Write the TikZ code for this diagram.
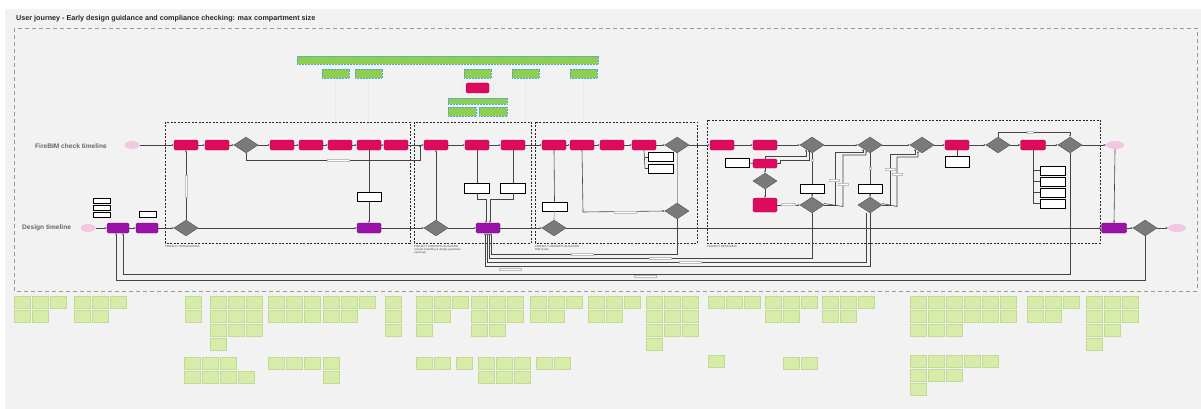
\documentclass[tikz,border=0pt]{standalone}
\usepackage{fontspec}
\setmainfont{Liberation Sans}
\usetikzlibrary{shapes.geometric,arrows.meta}
\definecolor{pk}{HTML}{DE0A5E}
\definecolor{pkd}{HTML}{A8064A}
\definecolor{pu}{HTML}{9A13A8}
\definecolor{pud}{HTML}{6A0A75}
\definecolor{dg}{HTML}{7A7A7A}
\definecolor{dgd}{HTML}{555555}
\definecolor{ov}{HTML}{F3C6E3}
\definecolor{gr}{HTML}{8DCF50}
\definecolor{grb}{HTML}{4FA3E0}
\definecolor{nt}{HTML}{D6ECA8}
\definecolor{ntd}{HTML}{C2DA94}
\definecolor{pan}{HTML}{F2F2F2}
\definecolor{ln}{HTML}{444444}
\tikzset{
  pinkbox/.style={rectangle,rounded corners=1.5pt,fill=pk,draw=pkd,line width=0.4pt,minimum width=24pt,minimum height=10pt,inner sep=0pt},
  purplebox/.style={rectangle,rounded corners=1.5pt,fill=pu,draw=pud,line width=0.4pt,minimum width=24pt,minimum height=10pt,inner sep=0pt},
  dia/.style={diamond,aspect=1.5,fill=dg,draw=dgd,line width=0.4pt,minimum width=24pt,minimum height=16pt,inner sep=0pt},
  wbox/.style={rectangle,fill=white,draw=black,line width=0.6pt,minimum width=24pt,minimum height=9pt,inner sep=0pt},
  ovalnode/.style={ellipse,fill=ov,draw=none,minimum width=15pt,minimum height=8pt,inner sep=0pt},
  greenbox/.style={rectangle,fill=gr,draw=grb,densely dotted,line width=0.5pt,minimum width=27pt,minimum height=9pt,inner sep=0pt},
  notebox/.style={rectangle,fill=nt,draw=ntd,line width=0.2pt,minimum width=16pt,minimum height=12pt,inner sep=0pt,anchor=north west},
  lbl/.style={rectangle,fill=white,draw=black!25,line width=0.2pt,inner sep=0pt},
  conn/.style={draw=ln,line width=0.6pt,-{Stealth[length=2.2pt,width=1.8pt]}},
  plain/.style={draw=ln,line width=0.6pt},
  light/.style={draw=black!35,line width=0.6pt},
  faint/.style={draw=black!8,line width=0.4pt},
  secbox/.style={draw=black!85,line width=0.6pt,dash pattern=on 2pt off 1.5pt},
  seclabel/.style={font=\fontsize{2.8}{3.2}\selectfont,text=black!70,anchor=north west,inner sep=0pt,align=left},
}
\newcommand\noterow[3]{\foreach \i in {1,...,#3}{\node[notebox] (n-#1-#2-\i) at ({#1+(\i-1)*18},#2) {};}}
\begin{document}
\begin{tikzpicture}[x=1pt,y=-1pt]
\useasboundingbox (0,0) rectangle (1201,409);
\fill[white] (0,0) rectangle (1201,409);
\fill[pan] (5,9) rectangle (1201,409);
\node[anchor=west,inner sep=0pt,font=\fontsize{7.2}{8}\selectfont\bfseries,text=black!85] (title) at (16,19) {User journey - Early design guidance and compliance checking: max compartment size};
\draw[black!40,line width=0.8pt,dash pattern=on 4pt off 3pt] (14,28) rectangle (1197,291);

% lane labels
\node[anchor=west,inner sep=0pt,font=\fontsize{6.6}{7.5}\selectfont\bfseries,text=black!60] (lane1) at (35,146) {FireBIM check timeline};
\node[anchor=west,inner sep=0pt,font=\fontsize{6.6}{7.5}\selectfont\bfseries,text=black!60] (lane2) at (22,228) {Design timeline};

% faint guide lines from top boxes
\foreach \x in {335,368,462,477,493,525,583} {\draw[faint] (\x,78) -- (\x,122);}

% top green boxes
\node[greenbox,minimum width=301pt,minimum height=8pt] (g0) at (447.5,60) {};
\node[greenbox] (g1) at (335.5,73.5) {};
\node[greenbox] (g2) at (368.5,73.5) {};
\node[greenbox] (g3) at (477.5,73.5) {};
\node[greenbox] (g4) at (525.5,73.5) {};
\node[greenbox] (g5) at (583.5,73.5) {};
\node[pinkbox,minimum width=23pt] (pkt) at (477.5,88) {};
\node[greenbox,minimum width=59pt,minimum height=6pt] (g6) at (477.5,101) {};
\node[greenbox,minimum width=28pt] (g7) at (462,111.5) {};
\node[greenbox,minimum width=28pt] (g8) at (493,111.5) {};
\draw[faint] (g3) -- (pkt) -- (g6);

% section boxes
\draw[secbox] (165,122) rectangle (410,243);
\draw[secbox] (414,122) rectangle (531,243);
\draw[secbox] (535,122) rectangle (697,243);
\draw[secbox] (707,120) rectangle (1100,243);
\node[seclabel] (sl1) at (165,245) {PROJECT INITIALISATION};
\node[seclabel] (sl2) at (414,245) {PROJECT CONCEPTUALISATION\\consult modelling \& design guidelines\\(optional)};
\node[seclabel] (sl3) at (535,245) {PROJECT CONCEPTUALISATION\\BIM model};
\node[seclabel] (sl4) at (707,245) {PROJECT DESIGNING};

% top row nodes
\node[ovalnode] (s1) at (132,145) {};
\node[pinkbox] (p1) at (186,145) {};
\node[pinkbox] (p2) at (217,145) {};
\node[dia] (d1) at (246,145) {};
\node[pinkbox] (p3) at (282,145) {};
\node[pinkbox] (p4) at (311,145) {};
\node[pinkbox] (p5) at (340,145) {};
\node[pinkbox] (p6) at (369,145) {};
\node[pinkbox] (p7) at (396,145) {};
\node[pinkbox] (p8) at (436,145) {};
\node[pinkbox] (p9) at (477,145) {};
\node[pinkbox] (p10) at (513,145) {};
\node[pinkbox] (p11) at (554,145) {};
\node[pinkbox] (p12) at (582,145) {};
\node[pinkbox] (p13) at (612,145) {};
\node[pinkbox] (p14) at (644,145) {};
\node[dia] (d2) at (677,145) {};
\node[pinkbox] (p15) at (722,145) {};
\node[pinkbox] (p16) at (765,145) {};
\node[dia] (d3) at (812,145) {};
\node[dia] (d4) at (870,145) {};
\node[dia] (d5) at (922,145) {};
\node[pinkbox] (p17) at (957,145) {};
\node[dia] (d6) at (998,145) {};
\node[pinkbox,minimum width=25pt] (p18) at (1033,145) {};
\node[dia] (d7) at (1070,145) {};
\node[ovalnode,minimum width=18pt] (e1) at (1115,145) {};

% bottom row nodes
\node[ovalnode] (s2) at (88,228) {};
\node[purplebox,minimum width=22pt] (u1) at (118,228) {};
\node[purplebox,minimum width=22pt] (u2) at (147,228) {};
\node[dia] (d8) at (186,228) {};
\node[purplebox] (u3) at (369,228) {};
\node[dia] (d9) at (436,228) {};
\node[purplebox] (u4) at (488,228) {};
\node[dia] (d10) at (554,228) {};
\node[purplebox,minimum width=25pt] (u5) at (1114,228) {};
\node[dia] (d11) at (1145,228) {};
\node[ovalnode,minimum width=18pt] (e2) at (1177,228) {};

% other nodes
\node[wbox,minimum width=17pt,minimum height=5.5pt] (wb15) at (101.5,201) {};
\node[wbox,minimum width=17pt,minimum height=5.5pt] (wb16) at (101.5,208) {};
\node[wbox,minimum width=17pt,minimum height=5.5pt] (wb17) at (101.5,215) {};
\node[wbox,minimum width=17pt,minimum height=5.5pt] (wb18) at (147.5,214.5) {};
\node[wbox] (wb1) at (369,197) {};
\node[wbox,minimum width=25pt,minimum height=10pt] (wb2) at (477,188) {};
\node[wbox,minimum width=25pt,minimum height=10pt] (wb3) at (513,188) {};
\node[wbox,minimum width=25pt] (wb4) at (554.5,206.5) {};
\node[wbox,minimum width=25pt] (wb5) at (660.5,157) {};
\node[wbox,minimum width=25pt] (wb6) at (660.5,168.5) {};
\node[dia] (d12) at (677,211) {};
\node[wbox] (wb7) at (737,163) {};
\node[pinkbox,minimum height=9pt] (p19) at (765,163.5) {};
\node[dia] (d13) at (765,181) {};
\node[pinkbox,minimum height=14pt] (p20) at (765,205) {};
\node[wbox] (wb8) at (812,189) {};
\node[dia] (d14) at (812,205) {};
\node[wbox] (wb9) at (870,189) {};
\node[dia] (d15) at (870,205) {};
\node[wbox,minimum height=11pt] (wb10) at (957,161.5) {};
\node[wbox,minimum width=25pt] (wb11) at (1053,170.5) {};
\node[wbox,minimum width=25pt] (wb12) at (1053,181.5) {};
\node[wbox,minimum width=25pt] (wb13) at (1053,192.5) {};
\node[wbox,minimum width=25pt] (wb14) at (1053,203.5) {};

% main timelines
\foreach \a/\b in {s1/p1,p1/p2,p2/d1,d1/p3,p3/p4,p4/p5,p5/p6,p6/p7,p7/p8,p8/p9,p9/p10,p10/p11,p11/p12,p12/p13,p13/p14,p14/d2,d2/p15,p15/p16,p16/d3,d3/d4,d4/d5,d5/p17,p17/d6,d6/p18,p18/d7,d7/e1}
  {\draw[conn] (\a) -- (\b);}
\foreach \a/\b in {s2/u1,u1/u2,u2/d8,d8/u3,u3/d9,d9/u4,u4/d10,d10/u5,u5/d11,d11/e2}
  {\draw[conn] (\a) -- (\b);}

% section 1
\draw[conn] (d8.north) -- (p1.south);
\node[lbl,minimum width=2.5pt,minimum height=22pt] (lb1) at (186,186) {};
\draw[plain] (p6.south) -- (wb1.north);
\draw[conn] (wb1.south) -- (u3.north);
\draw[conn] (d1.south) -- (246,160) -- (420,160) -- (420,145);
\node[lbl,minimum width=22pt,minimum height=2.5pt] (lb2) at (338,160) {};

% section 2
\draw[conn] (d9.north) -- (p8.south);
\draw[plain] (p9.south) -- (wb2.north);
\draw[plain] (p10.south) -- (wb3.north);
\draw[conn] (wb2.south) -- (477,199) -- (486,199) -- ([xshift=-2pt]u4.north);
\draw[conn] (wb3.south) -- (513,199) -- (490,199) -- ([xshift=2pt]u4.north);

% section 3
\draw[plain] (p11.south) -- (wb4.north);
\draw[light,-{Stealth[length=2.2pt,width=1.8pt]}] (wb4.south) -- (d10.north);
\draw[conn] (p12.south) -- (583,212) -- (d12.west);
\node[lbl,minimum width=22pt,minimum height=2.5pt] (lb3) at (625,212) {};
\draw[plain] (p14.south) -- (645,168.5);
\draw[plain] (645,157) -- (wb5.west);
\draw[plain] (645,168.5) -- (wb6.west);
\draw[light] (d2.south) -- (d12.north);

% section 4
\draw[plain] (wb7.east) -- (p19.west);
\draw[conn] (p19.north) |- (806,156) -- (806,149.5);
\draw[conn] (p19.east) -- (780,163.5) -- (780,160) -- (809,160) -- (809,150);
\draw[conn] (p19.south) -- (d13.north);
\draw[conn] (d13.south) -- (p20.north);
\draw[conn] (p20.east) -- (d14.west);
\node[lbl,minimum width=14pt,minimum height=2.5pt] (lb4) at (788,204) {};
\draw[plain] (d3.south) -- (wb8.north);
\draw[conn] (wb8.south) -- (d14.north);
\node[lbl,minimum width=2pt,minimum height=2pt] (lb5) at (812,160) {};
\draw[conn] (d14.east) -- (835,205) -- (835,152) -- (863,152) -- (863,149);
\draw[conn] ([yshift=1.5pt]d14.east) -- (843,206.5) -- (843,155) -- (866,155) -- (866,150.5);
\node[lbl,minimum width=10pt,minimum height=2pt] (lb6) at (834,180) {};
\node[lbl,minimum width=10pt,minimum height=2pt] (lb7) at (843,184) {};
\draw[plain] (d4.south) -- (wb9.north);
\draw[conn] (wb9.south) -- (d15.north);
\node[lbl,minimum width=2pt,minimum height=2pt] (lb8) at (870,168) {};
\draw[conn] (d15.east) -- (890,205) -- (890,154) -- (915,154) -- (915,149);
\draw[conn] ([yshift=1.5pt]d15.east) -- (897,206.5) -- (897,157) -- (918,157) -- (918,151);
\node[lbl,minimum width=10pt,minimum height=2pt] (lb9) at (890,169) {};
\node[lbl,minimum width=10pt,minimum height=2pt] (lb10) at (897,174) {};
\draw[plain] (p17.south) -- (wb10.north);
\draw[conn] (d6.north) -- (998,132) -- (1070,132) -- (d7.north);
\node[lbl,minimum width=6pt,minimum height=2pt] (lb11) at (1030,132) {};
\draw[plain] (p18.south) -- (1033,203.5);
\foreach \w in {wb11,wb12,wb13,wb14} {\draw[plain] (1033,0 |- \w.west) -- (\w.west);}
\draw[conn] (e1.south) -- (u5.north);

% long return lines
\draw[conn] (d11.south) -- (1145,280) -- (116,280) -- ([xshift=-2pt]u1.south);
\draw[conn] (d7.south) -- (1070,274) -- (123,274) -- ([xshift=5pt]u1.south);
\draw[conn] (d12.south) -- (677,254) -- (491,254) -- ([xshift=3pt]u4.south);
\draw[conn] (d14.south) -- (812,258) -- (489,258) -- ([xshift=1pt]u4.south);
\draw[conn] ([xshift=-4pt]d15.south) -- (866,262) -- (487,262) -- ([xshift=-1pt]u4.south);
\draw[conn] (d15.south) -- (870,266) -- (485,266) -- ([xshift=-3pt]u4.south);
\node[lbl,minimum width=22pt,minimum height=2.5pt] (lb12) at (582,254) {};
\node[lbl,minimum width=22pt,minimum height=2.5pt] (lb13) at (660,258) {};
\node[lbl,minimum width=22pt,minimum height=2.5pt] (lb14) at (690,262) {};
\node[lbl,minimum width=22pt,minimum height=2.5pt] (lb15) at (510,269) {};
\node[lbl,minimum width=22pt,minimum height=2.5pt] (lb16) at (645,276) {};

% sticky notes
\noterow{14}{296}{3}\noterow{14}{310}{2}
\noterow{74}{296}{3}\noterow{74}{310}{2}
\noterow{185}{296}{1}\noterow{185}{310}{1}
\noterow{210}{296}{3}\noterow{210}{310}{3}\noterow{210}{324}{3}\noterow{210}{338}{1}
\noterow{268}{296}{3}\noterow{268}{310}{3}
\noterow{323}{296}{3}\noterow{323}{310}{2}
\noterow{385}{296}{1}\noterow{385}{310}{1}\noterow{385}{324}{1}
\noterow{416}{296}{3}\noterow{416}{310}{2}\noterow{416}{324}{1}
\noterow{471}{296}{3}\noterow{471}{310}{3}\noterow{471}{324}{2}
\noterow{530}{296}{3}\noterow{530}{310}{2}
\noterow{588}{296}{3}\noterow{588}{310}{2}
\noterow{646}{296}{3}\noterow{646}{310}{3}\noterow{646}{324}{3}\noterow{646}{338}{1}
\noterow{708}{296}{3}
\noterow{765}{296}{3}\noterow{765}{310}{2}
\noterow{822}{296}{3}\noterow{822}{310}{2}
\noterow{910}{296}{6}\noterow{910}{310}{6}\noterow{910}{324}{3}
\noterow{1027}{296}{3}\noterow{1027}{310}{2}
\noterow{1086}{296}{3}\noterow{1086}{310}{3}\noterow{1086}{324}{2}\noterow{1086}{338}{1}
\noterow{184}{357}{3}\noterow{184}{371}{4}
\noterow{268}{357}{3}
\noterow{323}{357}{1}\noterow{323}{371}{1}
\noterow{416}{357}{2}
\noterow{456}{357}{1}
\noterow{478}{357}{3}\noterow{478}{371}{3}
\noterow{536}{357}{2}
\noterow{708}{355}{1}
\noterow{783}{357}{2}
\noterow{910}{355}{5}\noterow{910}{369}{3}\noterow{910}{383}{1}
\end{tikzpicture}
\end{document}
